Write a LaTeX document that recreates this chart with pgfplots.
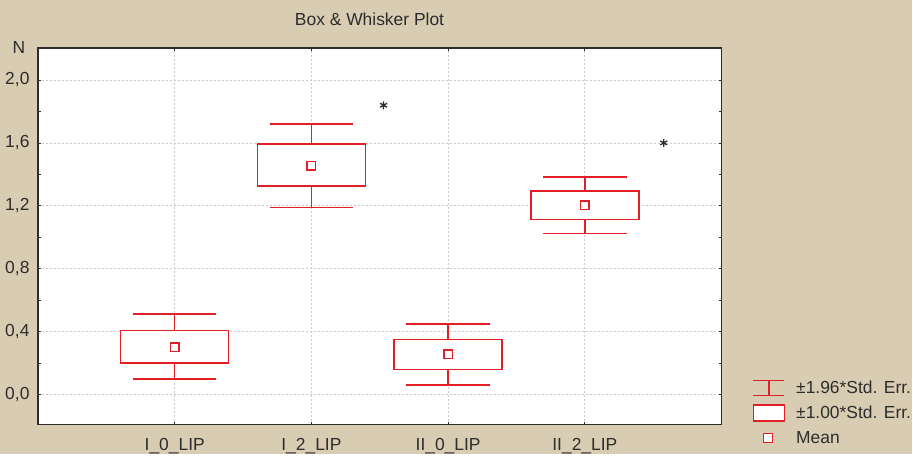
\documentclass[border=0pt]{standalone}
\usepackage{fontspec}
\setmainfont{Liberation Sans}
\usepackage{pgfplots}
\pgfplotsset{compat=1.18}
\usepgfplotslibrary{statistics}
\definecolor{bgbeige}{RGB}{216,204,178}
\definecolor{boxred}{RGB}{228,30,38}
\definecolor{txt}{RGB}{45,45,45}
\definecolor{gridc}{RGB}{200,200,200}
\newcommand{\fs}{\fontsize{17.5}{20}\selectfont}

\begin{document}
\begin{tikzpicture}[x=1bp,y=1bp]
\fill[bgbeige] (0,0) rectangle (913,454);
\begin{axis}[
  name=ax,
  at={(38bp,29bp)}, anchor=south west,
  width=684bp, height=377bp, scale only axis,
  xmin=0, xmax=5, ymin=-0.19, ymax=2.203,
  axis background/.style={fill=white},
  axis line style={txt, line width=1.5bp},
  xtick={1,2,3,4},
  xticklabels={I\_0\_LIP, I\_2\_LIP, II\_0\_LIP, II\_2\_LIP},
  ytick={0,0.4,0.8,1.2,1.6,2.0}, minor y tick num=1,
  tick align=inside, major tick length=3bp, minor tick length=3bp,
  tick style={txt, line width=0.8bp},
  xtick pos=both, ytick pos=both, xticklabel pos=lower, yticklabel pos=left,
  grid=major,
  major grid style={gridc, dash pattern=on 2bp off 2bp, line width=0.8bp},
  /pgf/number format/use comma, /pgf/number format/fixed,
  /pgf/number format/fixed zerofill, /pgf/number format/precision=1,
  /pgf/number format/assume math mode=true,
  tick label style={font=\fs, text=txt},
  xticklabel style={yshift=-10bp},
  yticklabel style={xshift=-5bp},
  title={Box \& Whisker Plot},
  title style={font=\fs, text=txt, at={(axis description cs:0.485,1)}, anchor=center, yshift=23bp},
  legend style={draw=none, fill=none, at={(axis description cs:1,0)}, anchor=north west,
    xshift=31bp, yshift=46bp, font=\fs, text=txt, row sep=7bp, inner sep=0pt,
    /tikz/every odd column/.append style={column sep=9bp}},
  legend cell align=left,
  boxplot/draw direction=y,
  boxplot/every average/.style={/tikz/mark=square*, /tikz/mark size=4.2bp,
    /tikz/mark options={fill=white, draw=boxred, line width=1bp, solid}},
]
% boxes: whisker = mean +- 1.96 SE, box = mean +- 1.00 SE
\addplot[boxred, line width=1.5bp, fill=white,
  boxplot/draw/median/.code={}, forget plot,
  boxplot prepared={draw position=1, lower whisker=0.100, lower quartile=0.203,
    median=0.303, upper quartile=0.410, upper whisker=0.512, average=0.303,
    box extend=0.79, whisker extend=0.61}] coordinates {};
\addplot[boxred, line width=1.5bp, fill=white,
  boxplot/draw/median/.code={}, forget plot,
  boxplot prepared={draw position=2, lower whisker=1.189, lower quartile=1.325,
    median=1.454, upper quartile=1.592, upper whisker=1.719, average=1.454,
    box extend=0.79, whisker extend=0.61}] coordinates {};
\addplot[boxred, line width=1.5bp, fill=white,
  boxplot/draw/median/.code={}, forget plot,
  boxplot prepared={draw position=3, lower whisker=0.063, lower quartile=0.160,
    median=0.258, upper quartile=0.350, upper whisker=0.450, average=0.258,
    box extend=0.79, whisker extend=0.61}] coordinates {};
\addplot[boxred, line width=1.5bp, fill=white,
  boxplot/draw/median/.code={}, forget plot,
  boxplot prepared={draw position=4, lower whisker=1.024, lower quartile=1.113,
    median=1.204, upper quartile=1.293, upper whisker=1.384, average=1.204,
    box extend=0.79, whisker extend=0.61}] coordinates {};
% outliers
\addplot[only marks, mark=asterisk, mark size=4bp,
  mark options={txt, line width=1.3bp}, forget plot]
  coordinates {(2.528,1.839) (4.577,1.600)};

\addlegendimage{legend image code/.code={
  \draw[boxred, line width=1.5bp] (0bp,-7.5bp) -- (31bp,-7.5bp)
    (0bp,7.5bp) -- (31bp,7.5bp) (15.5bp,-7.5bp) -- (15.5bp,7.5bp);}}
\addlegendentry{±1.96*Std. Err.}
\addlegendimage{legend image code/.code={
  \draw[boxred, line width=1.5bp, fill=white] (0bp,-8bp) rectangle (31bp,8bp);}}
\addlegendentry{±1.00*Std. Err.}
\addlegendimage{legend image code/.code={
  \draw[boxred, line width=1bp, fill=white] (10.5bp,-4.5bp) rectangle (19.5bp,4.5bp);}}
\addlegendentry{Mean}
\end{axis}
\node[font=\fs, text=txt] at (ax.north west) [xshift=-19bp] {N};
\end{tikzpicture}
\end{document}
